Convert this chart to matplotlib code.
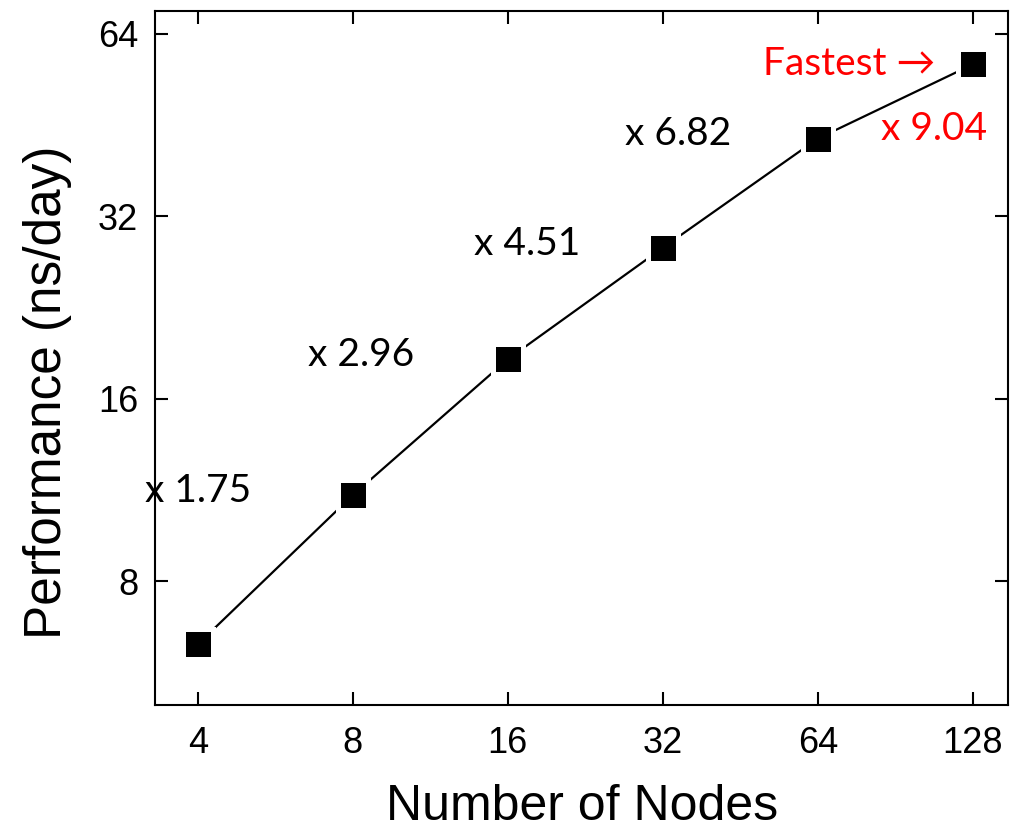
import matplotlib
matplotlib.use("Agg")
import matplotlib.pyplot as plt
from matplotlib.ticker import FixedLocator, NullLocator, FixedFormatter

# Data
nodes       = [4, 8, 16, 32, 64, 128]
performance = [6.30, 11.1, 18.6, 28.4, 43.0, 57.0]
speedups    = ["x 1.75", "x 2.96", "x 4.51", "x 6.82", "x 9.04"]
y_ticks     = [8, 16, 32, 64]

ANNOT_FONT = ["Lato", "DejaVu Sans"]
plt.rcParams["font.family"] = ["Liberation Sans", "DejaVu Sans"]

fig = plt.figure(figsize=(10.33, 8.33), dpi=100)
ax = fig.add_axes([0.150, 0.1537, 0.826, 0.833])

ax.plot(nodes, performance, color="black", linewidth=1.6, marker="s",
        markersize=21, markerfacecolor="black", markeredgecolor="white",
        markeredgewidth=3.6, zorder=3)

ax.set_xscale("log", base=2)
ax.set_yscale("log", base=2)
ax.set_xlim(3.30, 150)
ax.set_ylim(5.0, 69.8)

ax.xaxis.set_major_locator(FixedLocator(nodes))
ax.xaxis.set_major_formatter(FixedFormatter([str(n) for n in nodes]))
ax.xaxis.set_minor_locator(NullLocator())
ax.yaxis.set_major_locator(FixedLocator(y_ticks))
ax.yaxis.set_major_formatter(FixedFormatter([str(v) for v in y_ticks]))
ax.yaxis.set_minor_locator(NullLocator())

ax.tick_params(axis="both", which="major", direction="in", length=9.5,
               width=1.5, top=True, right=True, labelsize=26)
ax.tick_params(axis="x", pad=15)
ax.tick_params(axis="y", pad=12)
for sp in ax.spines.values():
    sp.set_linewidth(1.5)

ax.set_xlabel("Number of Nodes", fontsize=36, labelpad=17)
ax.set_ylabel("Performance (ns/day)", fontsize=37)
ax.yaxis.set_label_coords(-0.097, 0.451)

# Speedup labels (black ones sit left of each point, at the point's height)
offsets = [(0, 3), (6, 3), (14, 3), (11, 3)]
for i, (dx, dy) in enumerate(offsets):
    ax.annotate(speedups[i], xy=(nodes[i], performance[i + 1]),
                xytext=(dx, dy), textcoords="offset points",
                ha="center", va="center", fontsize=28, family=ANNOT_FONT,
                color="black")

ax.annotate(speedups[4], xy=(nodes[5], performance[4]),
            xytext=(-28, 7), textcoords="offset points",
            ha="center", va="center", fontsize=28, family=ANNOT_FONT,
            color="red")
ax.annotate("Fastest \u2192", xy=(nodes[5], performance[5]),
            xytext=(-27, 0), textcoords="offset points",
            ha="right", va="center", fontsize=28, family=ANNOT_FONT,
            color="red")

fig.savefig("out.png", dpi=100)
